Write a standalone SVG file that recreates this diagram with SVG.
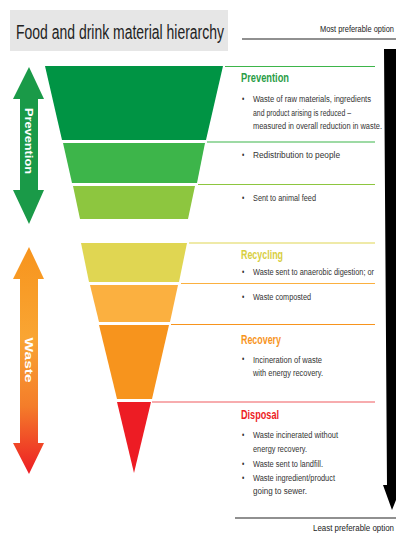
<svg xmlns="http://www.w3.org/2000/svg" width="396" height="535" viewBox="0 0 396 535">
<defs>
<linearGradient id="wasteGrad" x1="0" y1="247" x2="0" y2="474" gradientUnits="userSpaceOnUse">
<stop offset="0" stop-color="#f7941d"/>
<stop offset="0.4" stop-color="#f9a533"/>
<stop offset="0.7" stop-color="#f47d2a"/>
<stop offset="1" stop-color="#ed1c24"/>
</linearGradient>
<style>
text{font-family:"Liberation Sans","DejaVu Sans",Arial,sans-serif}
.title{font-size:20px;fill:#222}
.opt{font-size:8.5px;fill:#222}
.head{font-size:12.5px;font-weight:bold}
.body{font-size:9.5px;fill:#333}
.bul{font-size:9px;fill:#333}
.side{font-size:10.5px;font-weight:bold;fill:#fff}
.conn{stroke-width:1.2;fill:none}
</style>
</defs>
<rect width="396" height="535" fill="#fff"/>

<g id="title">
<rect x="10" y="10" width="218" height="41" fill="#e6e6e6"/>
<text class="title" x="16" y="39" textLength="208" lengthAdjust="spacingAndGlyphs">Food and drink material hierarchy</text>
</g>

<g id="most-preferable">
<line x1="242" y1="39" x2="396" y2="39" stroke="#222" stroke-width="1.2"/>
<text class="opt" transform="scale(0.72,1)" x="444.44" y="32" textLength="102.78" lengthAdjust="spacingAndGlyphs">Most preferable option</text>
</g>

<g id="preference-arrow">
<path d="M384,49 L398,49 L398,485 L402,485 L392,510 L383,485 L387,485 Z" fill="#000"/>
</g>

<g id="least-preferable">
<line x1="235" y1="518" x2="396" y2="518" stroke="#222" stroke-width="1.2"/>
<text class="opt" transform="scale(0.72,1)" x="434.72" y="531.5" textLength="112.5" lengthAdjust="spacingAndGlyphs">Least preferable option</text>
</g>

<g id="prevention-arrow">
<path d="M29,67 L44,99 L38,99 L38,190 L44,190 L29,224 L13,190 L20,190 L20,99 L13,99 Z" fill="#1a9a48"/>
<text class="side" transform="translate(29,141) rotate(90)" text-anchor="middle" dominant-baseline="central" textLength="66" lengthAdjust="spacingAndGlyphs">Prevention</text>
</g>

<g id="waste-arrow">
<path d="M29,247 L44,279 L38,279 L38,443 L44,443 L29,474 L13,443 L20,443 L20,279 L13,279 Z" fill="url(#wasteGrad)"/>
<text class="side" transform="translate(29,360) rotate(90)" text-anchor="middle" dominant-baseline="central" style="font-size:11px" textLength="45" lengthAdjust="spacingAndGlyphs">Waste</text>
</g>

<g id="band-prevention"><polygon points="45,66 223,66 206,140 62,140" fill="#009444"/></g>
<g id="band-redistribution"><polygon points="63,143 205,143 197,183 72,183" fill="#3db54a"/></g>
<g id="band-animal-feed"><polygon points="73,186 195,186 188,219 80,219" fill="#8dc63f"/></g>
<g id="band-recycling"><polygon points="81,243 187,243 179,282 89,282" fill="#e0d652"/></g>
<g id="band-composted"><polygon points="90,285 178,285 170,322 99,322" fill="#fbb040"/></g>
<g id="band-recovery"><polygon points="99,325 169,325 152,399 117,399" fill="#f7941d"/></g>
<g id="band-disposal"><polygon points="117,402 151,402 134,473" fill="#ed1c24"/></g>

<g id="connectors">
<line class="conn" x1="225" y1="66.5" x2="375" y2="66.5" stroke="#3db54a"/>
<line class="conn" x1="207" y1="142" x2="375" y2="142" stroke="#3db54a"/>
<line class="conn" x1="198" y1="184.5" x2="375" y2="184.5" stroke="#8dc63f"/>
<line class="conn" x1="189" y1="243" x2="375" y2="243" stroke="#e0d652"/>
<line class="conn" x1="181" y1="283.5" x2="375" y2="283.5" stroke="#fbb040"/>
<line class="conn" x1="171" y1="324.5" x2="375" y2="324.5" stroke="#f7941d"/>
<line class="conn" x1="152" y1="402" x2="375" y2="402" stroke="#f05a5e"/>
</g>

<g id="text-prevention" transform="scale(0.72,1)">
<text class="head" x="334.72" y="82" fill="#2a9d47" textLength="66.67" lengthAdjust="spacingAndGlyphs">Prevention</text>
<text class="bul" x="336.11" y="102">•</text>
<text class="body" x="351.39" y="102.5" textLength="163.89" lengthAdjust="spacingAndGlyphs">Waste of raw materials, ingredients</text>
<text class="body" x="351.39" y="116" textLength="136.11" lengthAdjust="spacingAndGlyphs">and product arising is reduced –</text>
<text class="body" x="351.39" y="129.5" textLength="179.17" lengthAdjust="spacingAndGlyphs">measured in overall reduction in waste.</text>
</g>

<g id="text-redistribution" transform="scale(0.72,1)">
<text class="bul" x="336.11" y="158">•</text>
<text class="body" x="351.39" y="158.5" textLength="120.83" lengthAdjust="spacingAndGlyphs">Redistribution to people</text>
</g>

<g id="text-animal-feed" transform="scale(0.72,1)">
<text class="bul" x="336.11" y="201">•</text>
<text class="body" x="351.39" y="201.5" textLength="87.5" lengthAdjust="spacingAndGlyphs">Sent to animal feed</text>
</g>

<g id="text-recycling" transform="scale(0.72,1)">
<text class="head" x="334.72" y="259.5" fill="#d8ce3e" textLength="58.33" lengthAdjust="spacingAndGlyphs">Recycling</text>
<text class="bul" x="336.11" y="275">•</text>
<text class="body" x="351.39" y="275.5" textLength="168.06" lengthAdjust="spacingAndGlyphs">Waste sent to anaerobic digestion; or</text>
</g>

<g id="text-composted" transform="scale(0.72,1)">
<text class="bul" x="336.11" y="300">•</text>
<text class="body" x="351.39" y="300.5" textLength="80.56" lengthAdjust="spacingAndGlyphs">Waste composted</text>
</g>

<g id="text-recovery" transform="scale(0.72,1)">
<text class="head" x="334.72" y="344" fill="#f7941d" textLength="55.56" lengthAdjust="spacingAndGlyphs">Recovery</text>
<text class="bul" x="336.11" y="362.5">•</text>
<text class="body" x="351.39" y="363" textLength="95.83" lengthAdjust="spacingAndGlyphs">Incineration of waste</text>
<text class="body" x="351.39" y="376.5" textLength="97.22" lengthAdjust="spacingAndGlyphs">with energy recovery.</text>
</g>

<g id="text-disposal" transform="scale(0.72,1)">
<text class="head" x="334.72" y="419.5" fill="#ed1c24" textLength="52.78" lengthAdjust="spacingAndGlyphs">Disposal</text>
<text class="bul" x="336.11" y="438">•</text>
<text class="body" x="351.39" y="438.5" textLength="118.06" lengthAdjust="spacingAndGlyphs">Waste incinerated without</text>
<text class="body" x="351.39" y="452.5" textLength="75" lengthAdjust="spacingAndGlyphs">energy recovery.</text>
<text class="bul" x="336.11" y="467">•</text>
<text class="body" x="351.39" y="467.5" textLength="97.22" lengthAdjust="spacingAndGlyphs">Waste sent to landfill.</text>
<text class="bul" x="336.11" y="481">•</text>
<text class="body" x="351.39" y="481.5" textLength="113.89" lengthAdjust="spacingAndGlyphs">Waste ingredient/product</text>
<text class="body" x="351.39" y="494.5" textLength="75" lengthAdjust="spacingAndGlyphs">going to sewer.</text>
</g>
</svg>
